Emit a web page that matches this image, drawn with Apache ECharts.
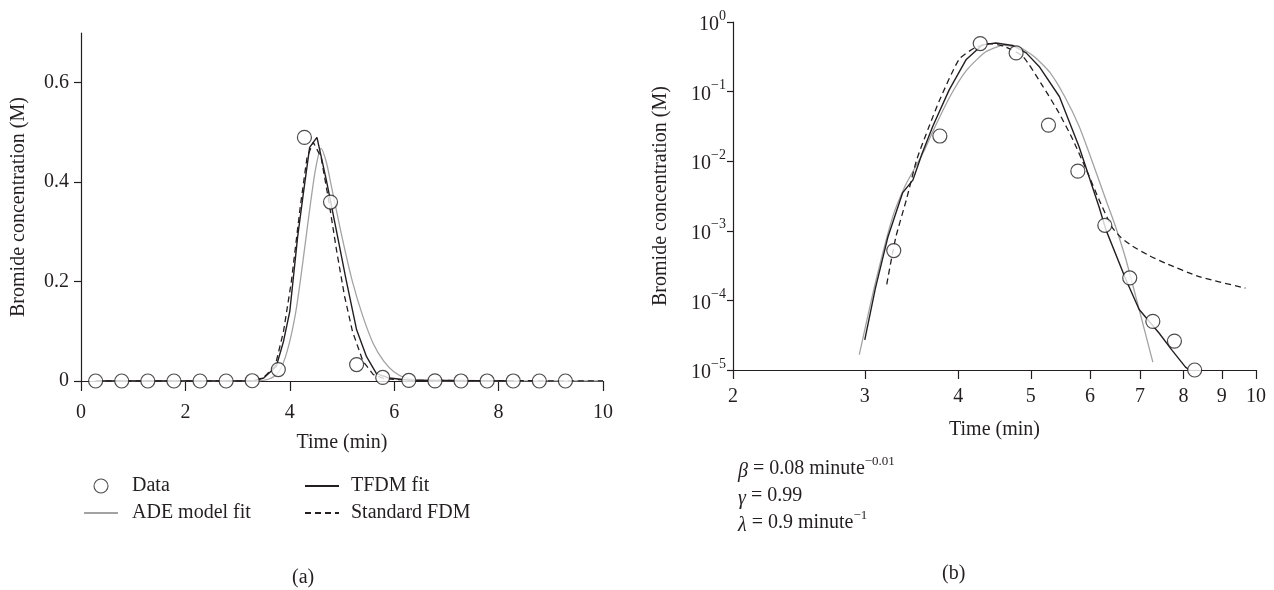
<!DOCTYPE html>
<html>
<head>
<meta charset="utf-8">
<script src="https://cdn.jsdelivr.net/npm/echarts@6/dist/echarts.min.js"></script>
<style>
  html, body { margin: 0; padding: 0; background: #fff; }
  #chart { width: 1274px; height: 590px; }
</style>
</head>
<body>
<div id="chart"></div>
<script>
// measured data (circles), same in both panels
var dataTime = [0.28, 0.78, 1.28, 1.78, 2.28, 2.78, 3.28, 3.78, 4.28, 4.78, 5.28, 5.78, 6.28, 6.78, 7.28, 7.78, 8.28, 8.78, 9.28];
var dataConc = [0, 0, 0, 0, 0, 0, 0.00052, 0.023, 0.49, 0.36, 0.033, 0.0072, 0.0012, 0.00021, 0.00005, 0.000026, 0.00001, 0, 0];

// (a) linear panel curves
var linAdeTime = [0.28, 3.3, 3.6, 3.8, 3.95, 4.1, 4.2, 4.3, 4.4, 4.5, 4.6, 4.7, 4.8, 5.0, 5.2, 5.4, 5.6, 5.8, 6.0, 6.2, 6.5, 7.0, 10];
var linAdeConc = [0, 0, 0.004, 0.02, 0.06, 0.13, 0.2, 0.28, 0.36, 0.43, 0.468, 0.44, 0.39, 0.29, 0.2, 0.13, 0.075, 0.04, 0.018, 0.007, 0.002, 0.0005, 0];
var linTfdmTime = [0.28, 3.3, 3.5, 3.74, 3.88, 4.0, 4.06, 4.15, 4.25, 4.38, 4.52, 4.70, 4.89, 5.08, 5.28, 5.47, 5.66, 5.9, 6.3, 8.3];
var linTfdmConc = [0, 0, 0.006, 0.029, 0.08, 0.14, 0.2, 0.29, 0.37, 0.47, 0.49, 0.404, 0.304, 0.203, 0.103, 0.049, 0.015, 0.006, 0.0015, 0];
var linFdmTime = [0.28, 3.3, 3.5, 3.72, 3.88, 4.03, 4.2, 4.33, 4.45, 4.6, 4.75, 4.9, 5.05, 5.2, 5.4, 5.6, 5.8, 6.3, 10];
var linFdmConc = [0, 0, 0.007, 0.03, 0.1, 0.2, 0.35, 0.45, 0.48, 0.45, 0.36, 0.26, 0.17, 0.1, 0.04, 0.013, 0.005, 0.0012, 0.0001];

// (b) log-log panel curves
var logAdeTime = [2.95, 3.1, 3.27, 3.4, 3.5, 3.6, 3.7, 3.9, 4.1, 4.35, 4.6, 4.85, 5.05, 5.3, 5.55, 5.8, 6.05, 6.3, 6.5, 6.7, 6.98, 7.28];
var logAdeConc = [1.66e-5, 1.8e-4, 1.6e-3, 4.5e-3, 8e-3, 1.4e-2, 2.7e-2, 0.085, 0.2, 0.37, 0.46, 0.42, 0.32, 0.19, 0.085, 0.032, 0.0095, 2.8e-3, 1.1e-3, 3.9e-4, 7.4e-5, 1.3e-5];
var logTfdmTime = [3.00, 3.10, 3.22, 3.37, 3.48, 3.58, 3.70, 3.89, 4.10, 4.31, 4.49, 4.73, 4.93, 5.13, 5.46, 5.80, 6.17, 6.30, 6.70, 6.98, 7.42, 7.73, 8.05, 8.15];
var logTfdmConc = [2.7e-5, 1.5e-4, 8e-4, 3.5e-3, 5.4e-3, 1.3e-2, 3.2e-2, 0.106, 0.29, 0.47, 0.50, 0.46, 0.36, 0.23, 0.085, 0.0163, 0.0022, 1.04e-3, 2.0e-4, 7.4e-5, 3.4e-5, 1.9e-5, 1.1e-5, 1e-5];
var logFdmTime = [3.21, 3.30, 3.41, 3.52, 3.65, 3.78, 4.01, 4.2, 4.4, 4.6, 4.88, 5.19, 5.45, 5.69, 5.95, 6.17, 6.41, 6.6, 6.84, 7.2, 7.58, 8.39, 9.68];
var logFdmConc = [1.7e-4, 8e-4, 2.8e-3, 0.0105, 0.03, 0.077, 0.29, 0.42, 0.49, 0.45, 0.32, 0.119, 0.05, 0.0205, 0.007, 2.8e-3, 1.16e-3, 8e-4, 6.0e-4, 4.4e-4, 3.4e-4, 2.2e-4, 1.5e-4];

// tick labels
var linYTicks = [0, 0.2, 0.4, 0.6];
var logXTicks = [2, 3, 4, 5, 6, 7, 8, 9, 10];

function pairs(xs, ys) {
  return xs.map(function (x, i) { return [x, ys[i]]; });
}
function positivePairs(xs, ys) {
  return pairs(xs, ys).filter(function (p) { return p[1] > 0; });
}

var ink = '#231f20';
var font = 'Liberation Serif';
var fs = 20;
var axisLine = { lineStyle: { color: ink, width: 1.2 } };
var labelStyle = { color: ink, fontFamily: font, fontSize: fs };
var nameStyle = { color: ink, fontFamily: font, fontSize: fs };

var circle = {
  symbol: 'circle', symbolSize: 14,
  itemStyle: { color: '#fff', borderColor: ink, borderWidth: 1.2 }
};

function lineSeries(name, data, ax, style, smooth) {
  return {
    name: name, type: 'line', data: data, symbol: 'none', smooth: smooth || false,
    xAxisIndex: ax, yAxisIndex: ax, lineStyle: style, itemStyle: { color: style.color },
    animation: false
  };
}

var adeStyle = { color: '#a3a3a3', width: 1.3 };
var tfdmStyle = { color: ink, width: 1.4 };
var fdmStyle = { color: ink, width: 1.3, type: [6, 4] };

var hideSymbol = { opacity: 0 };
var legendText = { color: ink, fontFamily: font, fontSize: fs, lineHeight: 14 };

var chart = echarts.init(document.getElementById('chart'));

var option = {
  backgroundColor: '#fff',
  animation: false,
  grid: [
    { left: 81, top: 33, width: 522, height: 348 },
    { left: 733, top: 22, width: 523, height: 348 }
  ],
  legend: [
    {
      left: 83, top: 476, padding: 0, orient: 'vertical', itemGap: 7, itemWidth: 34, itemHeight: 14,
      selectedMode: false,
      data: [
        { name: 'Data', itemStyle: { borderWidth: 1.1 } },
        { name: 'ADE model fit', itemStyle: hideSymbol }
      ],
      textStyle: Object.assign({ padding: [0, 0, 0, 9] }, legendText)
    },
    {
      left: 304, top: 476, padding: 0, orient: 'vertical', itemGap: 7, itemWidth: 34, itemHeight: 14,
      selectedMode: false,
      data: [
        { name: 'TFDM fit', itemStyle: hideSymbol },
        { name: 'Standard FDM', itemStyle: hideSymbol }
      ],
      textStyle: Object.assign({ padding: [0, 0, 0, 7] }, legendText)
    }
  ],
  xAxis: [
    {
      gridIndex: 0, type: 'value', min: 0, max: 10, interval: 2,
      name: 'Time (min)', nameLocation: 'middle', nameGap: 52, nameTextStyle: nameStyle,
      axisLine: axisLine, axisTick: { length: 10, lineStyle: { color: ink, width: 1.2 } },
      axisLabel: Object.assign({ margin: 22 }, labelStyle),
      splitLine: { show: false }
    },
    {
      gridIndex: 1, type: 'log', logBase: 10, min: 2, max: 10,
      name: 'Time (min)', nameLocation: 'middle', nameGap: 50, nameTextStyle: nameStyle,
      axisLine: axisLine,
      axisTick: { length: 9, customValues: logXTicks, lineStyle: { color: ink, width: 1.2 } },
      axisLabel: Object.assign({ margin: 17, customValues: logXTicks }, labelStyle),
      splitLine: { show: false }, minorTick: { show: false }
    }
  ],
  yAxis: [
    {
      gridIndex: 0, type: 'value', min: 0, max: 0.7,
      name: 'Bromide concentration (M)', nameLocation: 'middle', nameGap: 52, nameTextStyle: nameStyle,
      axisLine: axisLine,
      axisTick: { length: 7, customValues: linYTicks, lineStyle: { color: ink, width: 1.2 } },
      axisLabel: Object.assign({
        margin: 12, customValues: linYTicks,
        formatter: function (v) { return v === 0 ? '0' : v.toFixed(1); }
      }, labelStyle),
      splitLine: { show: false }
    },
    {
      gridIndex: 1, type: 'log', logBase: 10, min: 1e-5, max: 1,
      name: 'Bromide concentration (M)', nameLocation: 'middle', nameGap: 62, nameTextStyle: nameStyle,
      axisLine: axisLine,
      axisTick: { length: 6, lineStyle: { color: ink, width: 1.2 } },
      axisLabel: {
        margin: 7,
        formatter: function (v) {
          var e = Math.round(Math.log10(v));
          return '{b|10}{s|' + (e < 0 ? '\u2212' + (-e) : e) + '}';
        },
        rich: {
          b: { color: ink, fontFamily: font, fontSize: fs, lineHeight: 26, verticalAlign: 'bottom' },
          s: { color: ink, fontFamily: font, fontSize: 14, lineHeight: 14, verticalAlign: 'top' }
        }
      },
      splitLine: { show: false }, minorTick: { show: false }
    }
  ],
  graphic: [
    { type: 'text', left: 292, top: 568, style: { text: '(a)', fill: ink, font: '20px "Liberation Serif"' } },
    { type: 'text', left: 942, top: 564, style: { text: '(b)', fill: ink, font: '20px "Liberation Serif"' } },
    {
      type: 'text', left: 738, top: 455,
      style: {
        text: '{i|\u03b2} = 0.08 minute{s|\u22120.01}\n{i|\u03b3} = 0.99\n{i|\u03bb} = 0.9 minute{s|\u22121}',
        fill: ink, font: '20px "Liberation Serif"', lineHeight: 27,
        rich: {
          i: { fontFamily: font, fontSize: fs, fontStyle: 'italic', fill: ink, lineHeight: 27, verticalAlign: 'bottom' },
          s: { fontFamily: font, fontSize: 13, fill: ink, lineHeight: 14, verticalAlign: 'top' }
        }
      }
    }
  ],
  series: [
    lineSeries('ADE model fit', pairs(linAdeTime, linAdeConc), 0, adeStyle, 0.3),
    lineSeries('Standard FDM', pairs(linFdmTime, linFdmConc), 0, fdmStyle),
    lineSeries('TFDM fit', pairs(linTfdmTime, linTfdmConc), 0, tfdmStyle),
    Object.assign({ name: 'Data', type: 'scatter', xAxisIndex: 0, yAxisIndex: 0, z: 5, data: pairs(dataTime, dataConc) }, circle),

    lineSeries('ADE model fit', pairs(logAdeTime, logAdeConc), 1, adeStyle, 0.2),
    lineSeries('Standard FDM', pairs(logFdmTime, logFdmConc), 1, fdmStyle, 0.2),
    lineSeries('TFDM fit', pairs(logTfdmTime, logTfdmConc), 1, tfdmStyle),
    Object.assign({ name: 'Data', type: 'scatter', xAxisIndex: 1, yAxisIndex: 1, z: 5, data: positivePairs(dataTime, dataConc) }, circle)
  ]
};

chart.setOption(option);
</script>
</body>
</html>
